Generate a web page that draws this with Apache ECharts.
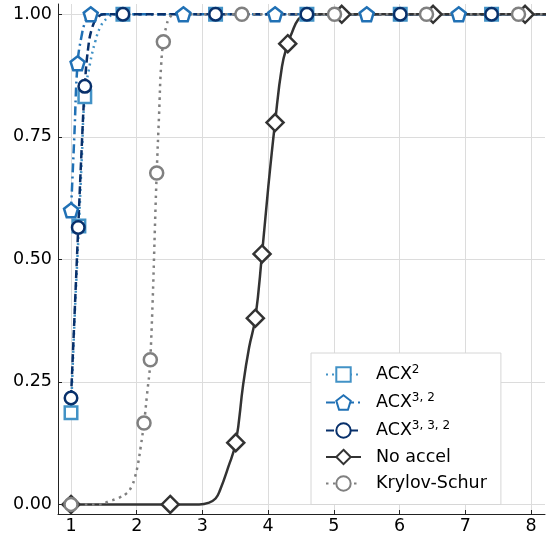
<!DOCTYPE html>
<html>
<head>
<meta charset="utf-8">
<script src="https://cdn.jsdelivr.net/npm/echarts@6/dist/echarts.min.js"></script>
<style>
  html, body { margin: 0; padding: 0; background: #fff; }
  #chart { width: 546px; height: 538px; }
</style>
</head>
<body>
<div id="chart"></div>
<script>
// Tick values
const xTicks = [1, 2, 3, 4, 5, 6, 7, 8];
const yTicks = [0, 0.25, 0.5, 0.75, 1];

// Series names
const seriesNames = ['ACX^2', 'ACX^3,2', 'ACX^3,3,2', 'No accel', 'Krylov-Schur'];

// ACX^2 : marker points and extra curve points
const acx2MarkX = [1.0, 1.12, 1.21, 1.79, 3.20, 4.59, 6.01, 7.40];
const acx2MarkY = [0.187, 0.568, 0.832, 1, 1, 1, 1, 1];
const acx2LineX = [1.055, 1.165, 1.29, 1.37, 1.45, 1.55, 1.68, 8.25];
const acx2LineY = [0.38, 0.71, 0.90, 0.945, 0.975, 0.992, 1, 1];

// ACX^{3,2}
const acx32MarkX = [1.0, 1.10, 1.30, 2.71, 4.105, 5.50, 6.90];
const acx32MarkY = [0.600, 0.900, 1, 1, 1, 1, 1];
const acx32LineX = [1.05, 1.16, 1.22, 8.25];
const acx32LineY = [0.75, 0.955, 0.985, 1];

// ACX^{3,3,2}
const acx332MarkX = [1.0, 1.11, 1.21, 1.79, 3.20, 4.59, 6.01, 7.40];
const acx332MarkY = [0.217, 0.565, 0.853, 1, 1, 1, 1, 1];
const acx332LineX = [1.055, 1.16, 1.26, 1.32, 1.40, 1.50, 8.25];
const acx332LineY = [0.39, 0.72, 0.93, 0.972, 0.993, 1, 1];

// No accel
const noAccMarkX = [1.0, 2.51, 3.507, 3.805, 3.907, 4.105, 4.298, 5.12, 6.51, 7.91];
const noAccMarkY = [0, 0, 0.126, 0.380, 0.511, 0.779, 0.940, 1, 1, 1];
const noAccLineX = [2.95, 3.09, 3.2, 3.27, 3.39, 3.62, 3.71, 4.0, 4.21, 4.36, 4.46, 4.56, 4.66, 8.25];
const noAccLineY = [0, 0.003, 0.012, 0.03, 0.075, 0.245, 0.32, 0.645, 0.893, 0.962, 0.99, 0.998, 1, 1];

// Krylov-Schur
const krylovMarkX = [1.0, 2.111, 2.207, 2.304, 2.405, 3.60, 5.01, 6.41, 7.81];
const krylovMarkY = [0, 0.166, 0.295, 0.676, 0.944, 1, 1, 1, 1];
const krylovLineX = [1.45, 1.57, 1.72, 1.85, 1.92, 1.974, 2.02, 2.06, 2.155, 2.34, 2.37, 2.45, 2.50, 2.58, 8.25];
const krylovLineY = [0, 0.006, 0.013, 0.023, 0.036, 0.056, 0.083, 0.117, 0.222, 0.795, 0.893, 0.975, 0.993, 1, 1];

const pentagon = 'path://M0,-10L9.511,-3.09L5.878,8.09L-5.878,8.09L-9.511,-3.09Z';

// Merge marker points (with symbol) and curve points (no symbol), ordered by x
function buildData(mx, my, lx, ly) {
  const pts = [];
  mx.forEach((x, i) => pts.push({ value: [x, my[i]] }));
  lx.forEach((x, i) => pts.push({ value: [x, ly[i]], symbol: 'none' }));
  pts.sort((a, b) => a.value[0] - b.value[0]);
  return pts;
}

function makeSeries(name, color, symbol, size, dash, width, mx, my, lx, ly) {
  return {
    name: name,
    type: 'line',
    data: buildData(mx, my, lx, ly),
    smooth: 0.45,
    symbol: symbol,
    symbolSize: size,
    showAllSymbol: true,
    lineStyle: { color: color, width: width, type: dash },
    itemStyle: { color: '#fff', borderColor: color, borderWidth: 2.5 },
    emphasis: { disabled: true },
    animation: false
  };
}

const colors = ['#4292c6', '#2171b5', '#08306b', '#333333', '#808080'];

const series = [
  makeSeries(seriesNames[0], colors[0], 'rect', 12.5, [2, 4], 2.5, acx2MarkX, acx2MarkY, acx2LineX, acx2LineY),
  makeSeries(seriesNames[1], colors[1], pentagon, 14, [9, 4, 2, 4], 2.5, acx32MarkX, acx32MarkY, acx32LineX, acx32LineY),
  makeSeries(seriesNames[2], colors[2], 'circle', 12.5, [8, 4], 2.5, acx332MarkX, acx332MarkY, acx332LineX, acx332LineY),
  makeSeries(seriesNames[3], colors[3], 'diamond', 17, 'solid', 2.5, noAccMarkX, noAccMarkY, noAccLineX, noAccLineY),
  makeSeries(seriesNames[4], colors[4], 'circle', 13, [2.5, 4.5], 2.5, krylovMarkX, krylovMarkY, krylovLineX, krylovLineY)
];

// Legend labels with superscripts
const legendLabels = {
  'ACX^2': 'ACX{sup|2}',
  'ACX^3,2': 'ACX{sup|3, 2}',
  'ACX^3,3,2': 'ACX{sup|3, 3, 2}',
  'No accel': 'No accel',
  'Krylov-Schur': 'Krylov-Schur'
};

const FONT = 'DejaVu Sans';

const chart = echarts.init(document.getElementById('chart'), null, { renderer: 'canvas' });
chart.setOption({
  backgroundColor: '#fff',
  animation: false,
  grid: { left: 58, right: 1, top: 4, bottom: 24, containLabel: false },
  xAxis: {
    type: 'value',
    min: 0.802,
    max: 8.213,
    axisLine: { show: true, onZero: false, lineStyle: { color: '#222', width: 1 } },
    axisTick: { show: true, inside: true, length: 4, customValues: xTicks, lineStyle: { color: '#222' } },
    axisLabel: {
      customValues: xTicks, margin: 3,
      color: '#000', fontFamily: FONT, fontSize: 17.5,
      formatter: v => String(v)
    },
    splitLine: { show: true, lineStyle: { color: '#dcdcdc', width: 1 } }
  },
  yAxis: {
    type: 'value',
    min: -0.0196,
    max: 1.021,
    axisLine: { show: true, onZero: false, lineStyle: { color: '#222', width: 1 } },
    axisTick: { show: true, inside: true, length: 4, customValues: yTicks, lineStyle: { color: '#222' } },
    axisLabel: {
      customValues: yTicks, margin: 6,
      color: '#000', fontFamily: FONT, fontSize: 17.5,
      formatter: v => v.toFixed(2)
    },
    splitLine: { show: true, lineStyle: { color: '#dcdcdc', width: 1 } }
  },
  legend: {
    orient: 'vertical',
    left: 311,
    top: 353,
    itemWidth: 35,
    itemHeight: 18,
    itemGap: 8.5,
    padding: [11, 14, 12, 14],
    backgroundColor: '#fff',
    borderColor: '#d6d6d6',
    borderWidth: 1,
    borderRadius: 0,
    selectedMode: false,
    data: seriesNames,
    formatter: name => legendLabels[name],
    textStyle: {
      color: '#000', fontFamily: FONT, fontSize: 17.5, padding: [0, 0, 0, 10],
      rich: {
        sup: { fontFamily: FONT, fontSize: 12, padding: [0, 0, 9, 0], color: '#000' }
      }
    }
  },
  series: series
});
</script>
</body>
</html>
